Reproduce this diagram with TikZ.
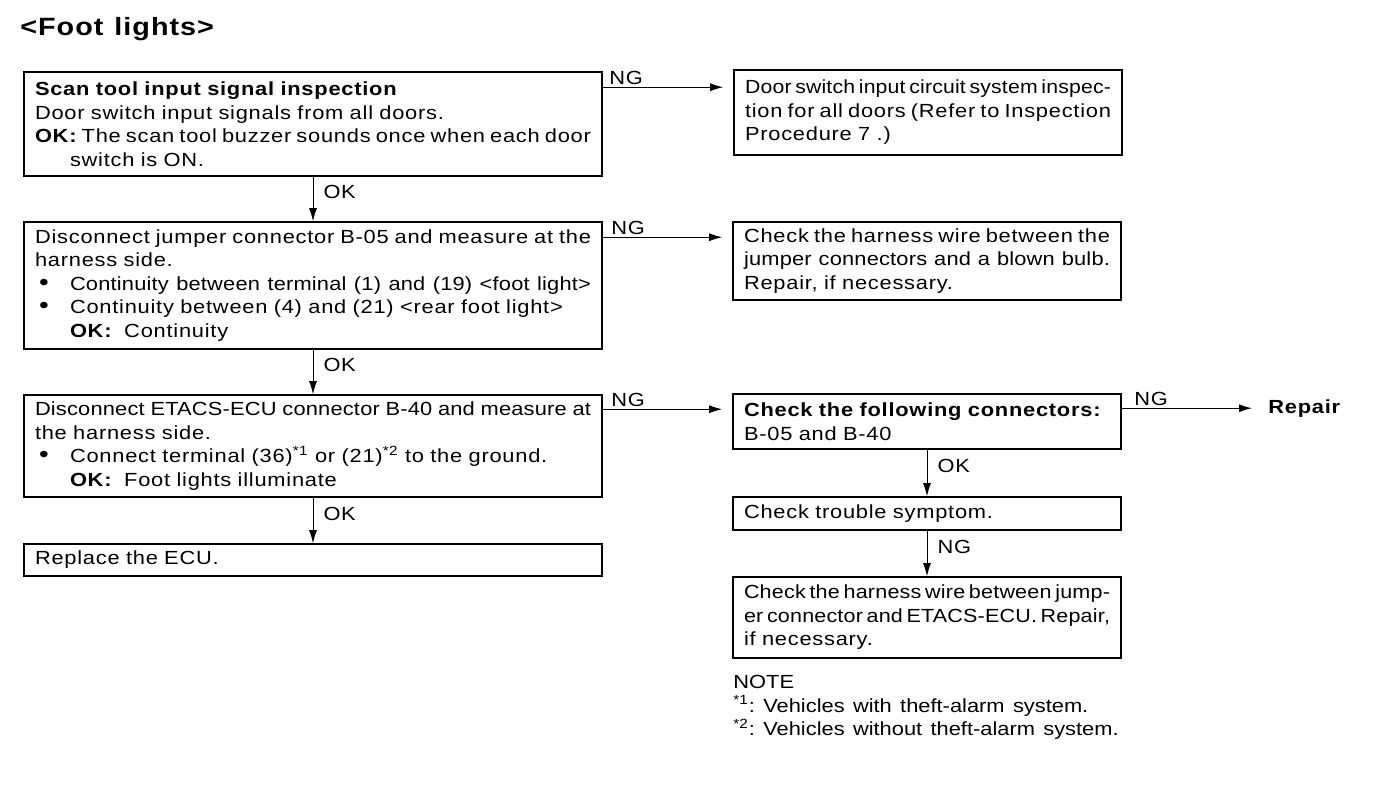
\documentclass[tikz,border=0pt]{standalone}
\usepackage{graphicx}
\usepackage{fontspec}
\setmainfont{Liberation Sans}[FakeStretch=1.15,LetterSpace=4]
\newfontfamily\tightfont{Liberation Sans}[FakeStretch=1.15,LetterSpace=1]
\newfontfamily\notefont{Liberation Sans}[FakeStretch=1.15,LetterSpace=0]
\usetikzlibrary{arrows.meta}
\usetikzlibrary{positioning}

\newlength{\jlw}
\newcommand{\widesp}{\spaceskip 0.44em plus 0.1em minus 0.05em\relax}
% justified line: spaces stretched, or line set tighter when too long
\newcommand{\fitl}[2]{\settowidth{\jlw}{#2}\ifdim\jlw>#1\relax\resizebox{#1}{\height}{#2}\else\makebox[#1][s]{#2}\fi}
\newcommand{\jl}[2]{\settowidth{\jlw}{\spaceskip 0.25em\relax#2}%
  \ifdim\jlw>#1\relax{\tightfont\spaceskip 0.2em plus 1fil\relax\fitl{#1}{#2}}%
  \else\makebox[#1][s]{\spaceskip 0.25em plus 1fil\relax#2}\fi}
\newcommand{\bul}{\makebox[17.5pt][l]{\hspace*{2pt}{\fontsize{12}{0}\selectfont\textbullet}}}
\newcommand{\tabin}{\hspace*{17.5pt}}

\begin{document}
\begin{tikzpicture}[x=0.5pt,y=-0.5pt,
  box/.style={draw, line width=0.8pt, inner xsep=5.5pt, inner ysep=0pt, align=left,
    font=\fontsize{9.5}{11.75}\selectfont\widesp},
  lbox/.style={box, text width=278pt, minimum height=#1},
  rbox/.style={box, text width=183pt, minimum height=#1},
  arr/.style={line width=0.5pt, -{Latex[length=6.5pt,width=4pt]}},
  lab/.style={font=\fontsize{9.5}{11}\selectfont, inner sep=1pt}]
\useasboundingbox (0,0) rectangle (1392,800);

\node[anchor=west, inner sep=0pt, font=\fontsize{12.5}{14}\selectfont\bfseries\widesp] (title) at (20,29) {<Foot lights>};

% left column
\node[lbox=52pt] (scan) at (313,124) {{\bfseries Scan tool input signal inspection}\\
Door switch input signals from all doors.\\
\jl{278pt}{{\bfseries OK:} The scan tool buzzer sounds once when each door}\\
\tabin switch is ON.};
\node[lbox=63.5pt] (jump) at (313,285.5) {\jl{278pt}{Disconnect jumper connector B-05 and measure at the}\\
harness side.\\
\bul\jl{260.5pt}{Continuity between terminal (1) and (19) <foot light>}\\
\bul Continuity between (4) and (21) <rear foot light>\\
\tabin{\bfseries OK:}\ \ Continuity};
\node[lbox=51pt] (etacs) at (313,446) {\jl{278pt}{Disconnect ETACS-ECU connector B-40 and measure at}\\
the harness side.\\
\bul Connect terminal (36)\textsuperscript{*1} or (21)\textsuperscript{*2} to the ground.\\
\tabin{\bfseries OK:}\ \ Foot lights illuminate};
\node[lbox=16pt] (ecu) at (313,560) {Replace the ECU.};

% right column
\node[rbox=42.5pt] (door) at (928,112.5) {\jl{183pt}{Door switch input circuit system inspec-}\\
\jl{183pt}{tion for all doors (Refer to Inspection}\\
Procedure 7 .)};
\node[rbox=39pt] (bulb) at (927,261) {\jl{183pt}{Check the harness wire between the}\\
\jl{183pt}{jumper connectors and a blown bulb.}\\
Repair, if necessary.};
\node[rbox=27.5pt] (chk) at (927,421.5) {{\bfseries Check the following connectors:}\\
B-05 and B-40};
\node[rbox=16.5pt] (sym) at (927,513.5) {Check trouble symptom.};
\node[rbox=40.5pt] (wire) at (927,617.5) {\jl{183pt}{Check the harness wire between jump-}\\
\jl{183pt}{er connector and ETACS-ECU. Repair,}\\
if necessary.};
\node[anchor=west, inner sep=0pt, font=\fontsize{9.5}{11}\selectfont\bfseries] (rep) at (1268,409) {Repair};

\node[anchor=north west, inner sep=0pt, align=left, font=\notefont\fontsize{9.5}{11.75}\selectfont\widesp] (note) at (733,675) {NOTE\\
\textsuperscript{*1}:\ Vehicles with theft-alarm system.\\
\textsuperscript{*2}:\ Vehicles without theft-alarm system.};

% OK arrows
\draw[arr] (scan.south) -- node[lab, right, pos=0.35, xshift=4pt] {OK} (jump.north);
\draw[arr] (jump.south) -- node[lab, right, pos=0.35, xshift=4pt] {OK} (etacs.north);
\draw[arr] (etacs.south) -- node[lab, right, pos=0.35, xshift=4pt] {OK} (ecu.north);
\draw[arr] (chk.south) -- node[lab, right, pos=0.35, xshift=4pt] {OK} (sym.north);
\draw[arr] (sym.south) -- node[lab, right, pos=0.35, xshift=4pt] {NG} (wire.north);

% NG arrows
\draw[arr, shorten >=5pt] ([yshift=-8pt]scan.north east) -- node[lab, above right, pos=0, xshift=2pt] {NG} ([yshift=-8pt]scan.north east -| door.west);
\draw[arr, shorten >=5pt] ([yshift=-8pt]jump.north east) -- node[lab, above right, pos=0, xshift=3pt] {NG} ([yshift=-8pt]jump.north east -| bulb.west);
\draw[arr, shorten >=5pt] ([yshift=-7.5pt]etacs.north east) -- node[lab, above right, pos=0, xshift=3pt] {NG} ([yshift=-7.5pt]etacs.north east -| chk.west);
\draw[arr, shorten >=8pt] ([yshift=-7.5pt]chk.north east) -- node[lab, above right, pos=0, xshift=5pt] {NG} ([yshift=-7.5pt]chk.north east -| rep.west);
\end{tikzpicture}
\end{document}
